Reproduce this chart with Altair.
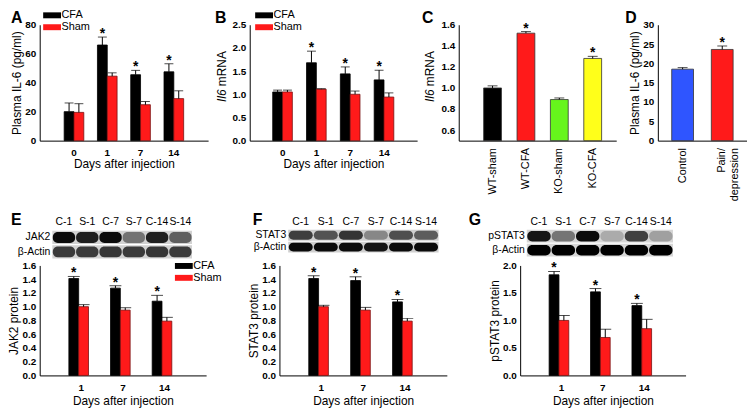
import altair as alt
import pandas as pd

FONT = "Liberation Sans"
RED = "#ff1a1a"
RED_EDGE = "#7a1010"
GROUPS = ["CFA", "Sham"]

# ---------------- data ----------------
DAYS_A = ["0", "1", "7", "14"]
A_CFA = [20.0, 66.0, 45.5, 47.5]
A_CFA_SEM = [6.0, 5.5, 3.0, 5.5]
A_SHAM = [19.5, 44.5, 24.8, 29.0]
A_SHAM_SEM = [6.0, 2.3, 2.2, 5.4]
A_SIG = [False, True, True, True]

B_CFA = [1.05, 1.68, 1.44, 1.31]
B_CFA_SEM = [0.04, 0.25, 0.15, 0.21]
B_SHAM = [1.05, 1.11, 1.00, 0.94]
B_SHAM_SEM = [0.04, 0.01, 0.07, 0.09]
B_SIG = [False, True, True, True]

C_CATS = ["WT-sham", "WT-CFA", "KO-sham", "KO-CFA"]
C_VALS = [1.00, 1.52, 0.89, 1.28]
C_SEM = [0.02, 0.015, 0.015, 0.02]
C_SIG = [False, True, False, True]
C_COLORS = ["#000000", "#ff1a1a", "#66f51c", "#ffff1a"]

D_CATS = ["Control", "Pain/depression"]
D_VALS = [18.5, 23.6]
D_SEM = [0.4, 0.9]
D_SIG = [False, True]
D_COLORS = ["#2f55ff", "#ff1a1a"]

DAYS_EFG = ["1", "7", "14"]
E_CFA = [1.41, 1.27, 1.08]
E_CFA_SEM = [0.03, 0.035, 0.085]
E_SHAM = [1.00, 0.95, 0.79]
E_SHAM_SEM = [0.03, 0.035, 0.055]
E_SIG = [True, True, True]

F_CFA = [1.41, 1.38, 1.07]
F_CFA_SEM = [0.04, 0.055, 0.035]
F_SHAM = [1.00, 0.95, 0.79]
F_SHAM_SEM = [0.02, 0.04, 0.04]
F_SIG = [True, True, True]

G_CFA = [1.83, 1.52, 1.27]
G_CFA_SEM = [0.06, 0.06, 0.04]
G_SHAM = [1.00, 0.69, 0.85]
G_SHAM_SEM = [0.09, 0.15, 0.17]
G_SIG = [True, True, True]

LANES = ["C-1", "S-1", "C-7", "S-7", "C-14", "S-14"]
E_BLOT = [0.95, 0.85, 0.95, 0.45, 0.85, 0.55]
E_ACTIN = [0.72, 0.72, 0.74, 0.72, 0.74, 0.72]
F_BLOT = [0.70, 0.60, 0.75, 0.35, 0.62, 0.55]
F_ACTIN = [0.95, 0.95, 0.95, 0.90, 0.95, 0.95]
G_BLOT = [0.90, 0.45, 0.95, 0.20, 0.70, 0.25]
G_ACTIN = [1.0, 1.0, 1.0, 1.0, 1.0, 1.0]

RECT_PATH = "M-3,-1H3V1H-3Z"


def letter_layer(letter, lx, ly):
    return alt.Chart(pd.DataFrame({"t": [letter]})).mark_text(
        font=FONT, fontSize=16, fontWeight="bold", align="left", baseline="top", color="black"
    ).encode(x=alt.value(lx), y=alt.value(ly), text="t:N")


def title_layer(txt, lx, ly, italic=False):
    kw = dict(font=FONT, fontSize=12, angle=270, align="left", baseline="middle", color="black")
    if italic:
        kw["fontStyle"] = "italic"
    return alt.Chart(pd.DataFrame({"t": [txt]})).mark_text(**kw).encode(
        x=alt.value(lx), y=alt.value(ly), text="t:N")


def extender(px, py):
    # invisible layout guide that fixes the bounding box used by the concat layout
    return alt.Chart(pd.DataFrame({"a": [0]})).mark_rule(opacity=0, strokeWidth=0.1).encode(
        x=alt.value(px), y=alt.value(py), y2=alt.value(py + 0.5))


def blot_panel(protein, prot_int, actin_int, bg, dom, yrange, width, letter, letter_xy):
    rows = [protein, "β-Actin"]
    band_df = pd.DataFrame({
        "row": [protein] * len(LANES) + ["β-Actin"] * len(LANES),
        "x0": [i - 0.48 for i in range(len(LANES))] * 2,
        "x1": [i + 0.48 for i in range(len(LANES))] * 2,
        "v": prot_int + actin_int,
    })
    strip_df = pd.DataFrame({"row": rows, "xs": [-0.5, -0.5], "xe": [len(LANES) - 0.5] * 2})
    lane_df = pd.DataFrame({"lane": LANES, "i": list(range(len(LANES)))})
    xs = alt.Scale(domain=dom, nice=False, zero=False)
    ys = alt.Scale(domain=rows, range=yrange, paddingInner=0.08, paddingOuter=0)
    strip = alt.Chart(strip_df).mark_rect(color=bg).encode(
        x=alt.X("xs:Q", scale=xs, axis=None), x2="xe:Q",
        y=alt.Y("row:N", scale=ys, axis=None))
    bands = alt.Chart(band_df).mark_bar(color="black", height=alt.RelativeBandSize(band=0.82),
                                        cornerRadius=5).encode(
        x=alt.X("x0:Q", scale=xs, axis=None), x2="x1:Q",
        y=alt.Y("row:N", scale=ys, axis=None),
        opacity=alt.Opacity("v:Q", scale=None, legend=None))
    lanes = alt.Chart(lane_df).mark_text(font=FONT, fontSize=10.5, baseline="middle", color="black").encode(
        x=alt.X("i:Q", scale=xs, axis=None), y=alt.value(-8), text="lane:N")
    labels = alt.Chart(strip_df).mark_text(font=FONT, fontSize=10.5, align="right", baseline="middle",
                                           dx=-2, color="black").encode(
        x=alt.X("xs:Q", scale=xs, axis=None), y=alt.Y("row:N", scale=ys, axis=None), text="row:N")
    return alt.layer(strip, bands, lanes, labels, letter_layer(letter, *letter_xy),
                     extender(width / 2, -20)).properties(width=width, height=30)


def grouped_panel(days, cfa, cfa_sem, sham, sham_sem, sig, width, height, ydom, yvals, yfmt,
                  ytitle, pin, pout, cap, legend_xy, letter=None, letter_xy=None, extra=(), xtp=1):
    n = len(days)
    df = pd.DataFrame({
        "day": days + days,
        "group": ["CFA"] * n + ["Sham"] * n,
        "val": cfa + sham,
        "top": [v + e for v, e in zip(cfa, cfa_sem)] + [v + e for v, e in zip(sham, sham_sem)],
        "star": ["*" if s else "" for s in sig] + [""] * n,
    })
    xax = alt.Axis(title="Days after injection", labelAngle=0, labelPadding=7, titlePadding=xtp)
    x = alt.X("day:N", sort=days, scale=alt.Scale(paddingInner=pin, paddingOuter=pout), axis=xax)
    xo = alt.XOffset("group:N", sort=GROUPS, scale=alt.Scale(paddingInner=0, paddingOuter=0))
    yax = alt.Axis(values=yvals, format=yfmt, title=ytitle, labelPadding=4, titlePadding=1)
    ysc = alt.Scale(domain=ydom, nice=False)

    if legend_xy is not None:
        leg = alt.Legend(orient="none", legendX=legend_xy[0], legendY=legend_xy[1], title=None,
                         symbolType=RECT_PATH, symbolSize=36, symbolStrokeWidth=0,
                         labelFont=FONT, labelFontSize=11, labelColor="black", labelOffset=4,
                         rowPadding=0, padding=0)
    else:
        leg = None
    base = alt.Chart(df)
    bars = base.mark_bar(strokeWidth=0.8).encode(
        x=x, xOffset=xo, y=alt.Y("val:Q", scale=ysc, axis=yax),
        color=alt.Color("group:N", scale=alt.Scale(domain=GROUPS, range=["#000000", RED]), legend=leg),
        stroke=alt.Stroke("group:N", scale=alt.Scale(domain=GROUPS, range=["#000000", RED_EDGE]), legend=None),
    )
    rule = base.mark_rule(color="black", strokeWidth=1).encode(
        x=x, xOffset=xo, y=alt.Y("val:Q", scale=ysc, axis=yax), y2="top:Q")
    capm = base.mark_tick(color="black", thickness=1, size=cap).encode(
        x=x, xOffset=xo, y=alt.Y("top:Q", scale=ysc, axis=yax))
    star = base.mark_text(font=FONT, fontSize=14, fontWeight="bold", color="black",
                          baseline="alphabetic", dy=1).encode(
        x=x, xOffset=xo, y=alt.Y("top:Q", scale=ysc, axis=yax), text="star:N")
    layers = [bars, rule, capm, star]
    if letter is not None:
        layers.append(letter_layer(letter, *letter_xy))
    layers.extend(extra)
    return alt.layer(*layers).properties(width=width, height=height)


def cat_panel(cats, vals, sem, sig, colors, width, height, ydom, yvals, yfmt, ytitle, base0,
              pin, pout, align, cap, letter, letter_xy, label_expr=None, extra=()):
    df = pd.DataFrame({
        "cat": cats,
        "val": vals,
        "top": [v + e for v, e in zip(vals, sem)],
        "star": ["*" if s else "" for s in sig],
    })
    axkw = dict(title=None, labelAngle=270, labelAlign="right", labelBaseline="middle",
                labelFontWeight="normal", labelFontSize=11, labelPadding=7)
    if label_expr is not None:
        axkw["labelExpr"] = label_expr
    x = alt.X("cat:N", sort=cats,
              scale=alt.Scale(paddingInner=pin, paddingOuter=pout, align=align),
              axis=alt.Axis(**axkw))
    yax = alt.Axis(values=yvals, format=yfmt, title=ytitle, labelPadding=4, titlePadding=1)
    ysc = alt.Scale(domain=ydom, nice=False, zero=False)
    base = alt.Chart(df)
    bars = base.mark_bar(stroke="#333333", strokeWidth=0.8).encode(
        x=x, y=alt.Y("val:Q", scale=ysc, axis=yax), y2=alt.datum(base0),
        color=alt.Color("cat:N", scale=alt.Scale(domain=cats, range=colors), legend=None))
    rule = base.mark_rule(color="black", strokeWidth=1).encode(
        x=x, y=alt.Y("val:Q", scale=ysc, axis=yax), y2="top:Q")
    capm = base.mark_tick(color="black", thickness=1, size=cap).encode(
        x=x, y=alt.Y("top:Q", scale=ysc, axis=yax))
    star = base.mark_text(font=FONT, fontSize=14, fontWeight="bold", color="black",
                          baseline="alphabetic", dy=1).encode(
        x=x, y=alt.Y("top:Q", scale=ysc, axis=yax), text="star:N")
    layers = [bars, rule, capm, star, letter_layer(letter, *letter_xy)]
    layers.extend(extra)
    return alt.layer(*layers).properties(width=width, height=height)


TOP_H = 117
BOT_H = 111
LTOP = -15

A = grouped_panel(DAYS_A, A_CFA, A_CFA_SEM, A_SHAM, A_SHAM_SEM, A_SIG, 170, TOP_H, [0, 80],
                  [0, 20, 40, 60, 80], "d", "Plasma IL-6 (pg/ml)", 0.41, 0.735, 9,
                  (7, LTOP), "A", (-29, LTOP), extra=[extender(0, 185)])
B = grouped_panel(DAYS_A, B_CFA, B_CFA_SEM, B_SHAM, B_SHAM_SEM, B_SIG, 169, TOP_H, [0, 2.5],
                  [0, 0.5, 1.0, 1.5, 2.0, 2.5], ".1f", None, 0.41, 0.68, 9,
                  (9, LTOP), "B", (-35, LTOP),
                  extra=[title_layer("Il6", -28, 78, italic=True), title_layer("mRNA", -28, 62)])
C = cat_panel(C_CATS, C_VALS, C_SEM, C_SIG, C_COLORS, 159, TOP_H, [0.5, 1.6],
              [0.6, 0.8, 1.0, 1.2, 1.4, 1.6], ".1f", None, 0.5, 0.466, 0.592, 0.63, 10, "C",
              (-37, LTOP),
              extra=[title_layer("Il6", -29, 78, italic=True), title_layer("mRNA", -29, 62)])
D = cat_panel(D_CATS, D_VALS, D_SEM, D_SIG, D_COLORS, 90, TOP_H, [0, 30],
              [0, 5, 10, 15, 20, 25, 30], "d", "Plasma IL-6 (pg/ml)", 0, 0.45, 0.35, 0.5, 10, "D",
              (-33, LTOP),
              label_expr="datum.label == 'Pain/depression' ? ['Pain/', 'depression'] : datum.label")

BE = blot_panel("JAK2", E_BLOT, E_ACTIN, "#d2d2d2", [-1.043, 6.106], [1, 29], 168, "E", (-29, -18))
BF = blot_panel("STAT3", F_BLOT, F_ACTIN, "#cfcfcf", [-0.85, 5.83], [0, 23], 169, "F", (-27, -18))
BG = blot_panel("pSTAT3", G_BLOT, G_ACTIN, "#d6d6d6", [-0.772, 6.016], [0, 27], 167, "G", (-52, -18))

E = grouped_panel(DAYS_EFG, E_CFA, E_CFA_SEM, E_SHAM, E_SHAM_SEM, E_SIG, 168, BOT_H, [0, 1.6],
                  [0, 0.2, 0.4, 0.6, 0.8, 1.0, 1.2, 1.4, 1.6], ".1f", "JAK2 protein", 0.405, 0.70, 12,
                  (140, -5), extra=[extender(186, 0)], xtp=3)
F = grouped_panel(DAYS_EFG, F_CFA, F_CFA_SEM, F_SHAM, F_SHAM_SEM, F_SIG, 169, BOT_H, [0, 1.6],
                  [0, 0.2, 0.4, 0.6, 0.8, 1.0, 1.2, 1.4, 1.6], ".1f", "STAT3 protein", 0.405, 0.70, 12,
                  None, extra=[extender(-55, 0), extender(187, 0)], xtp=3)
G = grouped_panel(DAYS_EFG, G_CFA, G_CFA_SEM, G_SHAM, G_SHAM_SEM, G_SIG, 167, BOT_H, [0, 2.0],
                  [0, 0.5, 1.0, 1.5, 2.0], ".1f", "pSTAT3 protein", 0.405, 0.70, 12,
                  None, extra=[extender(-55, 0)], xtp=3)

RES = dict(color="independent", stroke="independent", opacity="independent",
           x="independent", y="independent")


def col(b, p):
    return alt.vconcat(b, p, spacing=6, bounds="flush").resolve_scale(**RES).resolve_legend(
        color="independent")


top = alt.hconcat(A, B, C, D, spacing=42, bounds="flush").resolve_scale(**RES).resolve_legend(
    color="independent")
bottom = alt.hconcat(col(BE, E), col(BF, F), col(BG, G), spacing=1).resolve_scale(
    **RES).resolve_legend(color="independent")

chart = alt.vconcat(top, bottom, spacing=1).resolve_scale(**RES).resolve_legend(
    color="independent").properties(padding=0).configure_axis(
    labelFont=FONT, titleFont=FONT, labelFontSize=10, labelFontWeight="bold",
    titleFontSize=12, titleFontWeight="normal", labelColor="black", titleColor="black",
    domainColor="black", domainWidth=1, ticks=False, grid=False, labelOverlap=False
).configure_view(stroke=None)

chart.save("out.html", embed_options={"renderer": "svg", "actions": False})
